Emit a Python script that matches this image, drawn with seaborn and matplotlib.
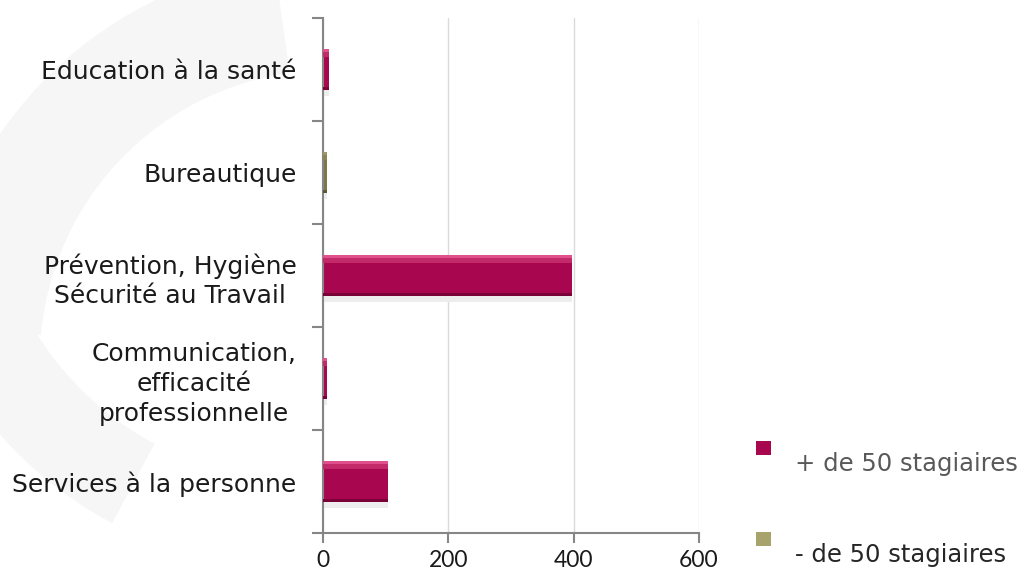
import pandas as pd
import matplotlib
matplotlib.use("Agg")
import matplotlib.pyplot as plt
from matplotlib.patches import Rectangle, Wedge
import seaborn as sns

# Données du graphique
categories = ["Education à la santé",
              "Bureautique",
              "Prévention, Hygiène\nSécurité au Travail",
              "Communication,\nefficacité\nprofessionnelle",
              "Services à la personne"]
plus_50 = [9, 0, 398, 7, 103]
moins_50 = [0, 6, 0, 0, 0]
series = ["+ de 50 stagiaires", "- de 50 stagiaires"]
x_ticks = [0, 200, 400, 600]

couleurs = {"+ de 50 stagiaires": "#A8074F", "- de 50 stagiaires": "#7D7848"}

df = pd.DataFrame({
    "categorie": categories * 2,
    "valeur": plus_50 + moins_50,
    "serie": [series[0]] * len(categories) + [series[1]] * len(categories),
})

sns.set_style("white")
plt.rcParams["font.family"] = ["DejaVu Sans"]

fig = plt.figure(figsize=(10.23, 5.78), dpi=100)

# Filigrane gris très clair en fond (le "S" du logo)
bg = fig.add_axes([0, 0, 1, 1], zorder=-1)
bg.set_xlim(0, 1023)
bg.set_ylim(578, 0)
bg.axis("off")
bg.add_patch(Wedge((330, 360), 400, 185, 262, width=110, color="#F6F6F6", lw=0))
bg.add_patch(Wedge((300, 170), 400, 118, 168, width=90, color="#F6F6F6", lw=0))

ax = fig.add_axes([0.3157, 0.0779, 0.3676, 0.891])
ax.set_facecolor("none")

sns.barplot(data=df, y="categorie", x="valeur", hue="serie", order=categories,
            hue_order=series, palette=couleurs, dodge=False, width=0.4,
            saturation=1, orient="h", linewidth=0, legend=False, ax=ax)

# Effet biseauté sur les barres
for p in list(ax.patches):
    w = p.get_width()
    if w <= 0:
        continue
    y0, h = p.get_y(), p.get_height()
    r, g, b, _ = p.get_facecolor()
    rouge = r > 2 * g
    ax.add_patch(Rectangle((0, y0 + h), w, 0.06, color="#EDEDED", lw=0, zorder=1))
    ax.add_patch(Rectangle((0, y0), w, h * 0.08, color="#E0508C" if rouge else "#9C9766",
                           lw=0, zorder=3))
    ax.add_patch(Rectangle((0, y0 + h * 0.08), w, h * 0.12, color="#C22A6A" if rouge else "#8A8556",
                           lw=0, zorder=3))
    ax.add_patch(Rectangle((0, y0 + h * 0.92), w, h * 0.08, color="#7A0038" if rouge else "#5C5834",
                           lw=0, zorder=3))

ax.set_xlim(0, 600)
ax.set_ylim(len(categories) - 0.5, -0.5)
ax.set_xticks(x_ticks)
ax.set_xticklabels([str(t) for t in x_ticks], fontfamily="Lato", fontsize=16.5, color="#1a1a1a")
ax.xaxis.grid(True, color="#DADADA", lw=1)
ax.set_axisbelow(True)

ax.set_yticks(range(len(categories)))
ax.set_yticklabels(categories, fontsize=18, color="#1a1a1a", ha="right",
                   multialignment="center", linespacing=1.3)
ax.set_yticks([i - 0.5 for i in range(len(categories) + 1)], minor=True)
ax.tick_params(axis="y", which="major", left=False, length=0, pad=19)
ax.tick_params(axis="y", which="minor", left=True, length=8, width=1.5,
               color="#868686", direction="out")
ax.tick_params(axis="x", bottom=True, length=7, width=1.5, color="#868686",
               direction="out", pad=5)

for s in ["top", "right"]:
    ax.spines[s].set_visible(False)
for s in ["left", "bottom"]:
    ax.spines[s].set_color("#868686")
    ax.spines[s].set_linewidth(1.5)

ax.set_xlabel("")
ax.set_ylabel("")

# Légende
couleurs_leg = ["#A8074F", "#A8A26C"]
textes_leg = ["#595959", "#262626"]
for i, nom in enumerate(series):
    ym = 0.212 - i * 0.157
    fig.add_artist(Rectangle((0.739, ym), 0.0145, 0.025, transform=fig.transFigure,
                             color=couleurs_leg[i], lw=0))
    fig.text(0.777, ym - 0.015, nom, fontsize=17.5, color=textes_leg[i], va="center")

fig.savefig("out.png", dpi=100)
